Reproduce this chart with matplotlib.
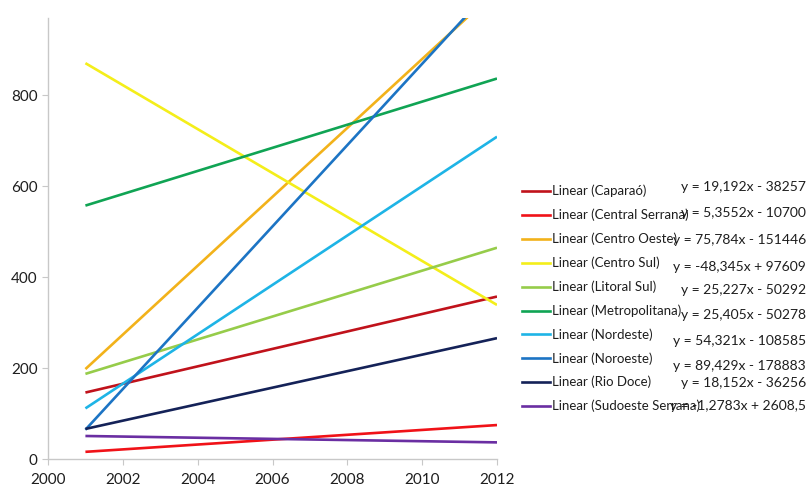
import matplotlib

matplotlib.use("Agg")
import matplotlib.pyplot as plt
from matplotlib.lines import Line2D
import numpy as np

plt.rcParams["font.family"] = ["Liberation Sans Narrow", "Lato", "DejaVu Sans"]

regions = [
    "Caparaó",
    "Central Serrana",
    "Centro Oeste",
    "Centro Sul",
    "Litoral Sul",
    "Metropolitana",
    "Nordeste",
    "Noroeste",
    "Rio Doce",
    "Sudoeste Serrana",
]
slopes = [19.192, 5.3552, 75.784, -48.345, 25.227, 25.405, 54.321, 89.429, 18.152, -1.2783]
intercepts = [-38257, -10700, -151446, 97609, -50292, -50278, -108585, -178883, -36256, 2608.5]
years = [2001, 2012]

colors = [
    "#C0121B", "#F01218", "#F2B21A", "#F4EE1A", "#96CC4A",
    "#10A454", "#1EB4E6", "#1C74C4", "#142258", "#6A2EA2",
]

W, H = 807, 490
# legend rows and equation labels, in pixels from the top
row_y_px = [191 + 23.9 * i for i in range(len(regions))]
eq_y_px = [187, 213, 240, 267, 290, 315, 341, 366, 383, 406]

fig = plt.figure(figsize=(W / 100, H / 100), dpi=100)
ax = fig.add_axes([48 / W, 1 - 459 / H, (497 - 48) / W, (459 - 18) / H])

x = np.array(years, dtype=float)
for name, m, b, c in zip(regions, slopes, intercepts, colors):
    ax.plot(x, m * x + b, color=c, lw=1.9, solid_capstyle="butt",
            label=f"Linear ({name})")

ax.set_xlim(2000, 2012)
ax.set_ylim(0, 970)
ax.set_xticks(range(2000, 2013, 2))
ax.set_yticks([0, 200, 400, 600, 800])
for side in ("top", "right"):
    ax.spines[side].set_visible(False)
for side in ("left", "bottom"):
    ax.spines[side].set_color("#C8C8C8")
    ax.spines[side].set_linewidth(1.0)
ax.tick_params(axis="both", direction="out", length=4, color="#C8C8C8",
               labelsize=11, labelcolor="#1E1E1E")
ax.tick_params(axis="x", pad=6)

# hand-placed legend with the trendline equations beside it
for line, c, ry in zip(ax.get_lines(), colors, row_y_px):
    yf = 1 - ry / H
    fig.add_artist(Line2D([522 / W, 550 / W], [yf, yf], color=c, lw=1.9,
                          transform=fig.transFigure))
    fig.text(552 / W, yf, line.get_label(), ha="left", va="center",
             fontsize=9.5, color="#1E1E1E")

for m, b, ypx in zip(slopes, intercepts, eq_y_px):
    sign = "-" if b < 0 else "+"
    ms = f"{m:g}".replace(".", ",")
    bs = f"{abs(b):g}".replace(".", ",")
    fig.text(806 / W, 1 - ypx / H, f"y = {ms}x {sign} {bs}", ha="right",
             va="center", fontsize=10, color="#1E1E1E")

fig.savefig("out.png", dpi=100)
